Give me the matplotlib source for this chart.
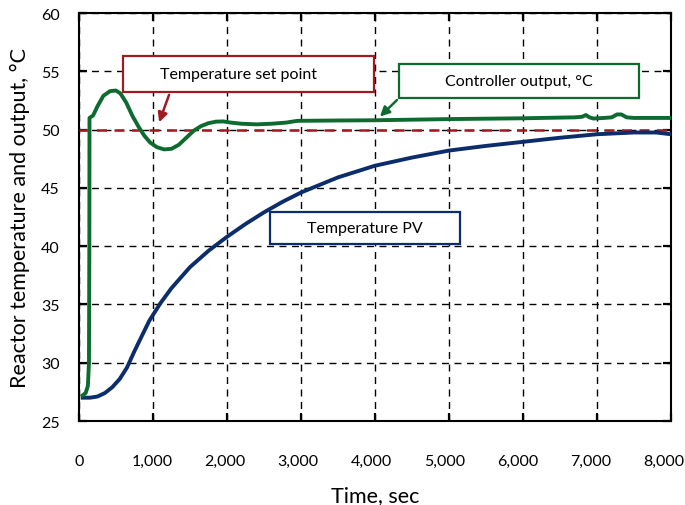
import matplotlib.pyplot as plt
from matplotlib.patches import Rectangle
from matplotlib.ticker import FuncFormatter
from matplotlib.transforms import ScaledTranslation

plt.rcParams['font.family'] = ['Lato', 'DejaVu Sans']

# controller output (green)
t_out = [50, 90, 120, 135, 140, 142, 190, 250, 330, 420, 500, 560, 640, 720, 800, 880,
         960, 1050, 1150, 1250, 1350, 1450, 1550, 1650, 1750, 1850, 1950, 2050, 2200,
         2400, 2600, 2800, 2950, 3500, 4000, 5000, 6000, 6700, 6800, 6850, 6900, 6950,
         7100, 7200, 7270, 7330, 7400, 7500, 8000]
out = [27.2, 27.4, 28.0, 30.0, 40.0, 51.0, 51.2, 52.0, 52.9, 53.3, 53.35, 53.1, 52.3,
       51.2, 50.3, 49.5, 48.9, 48.5, 48.3, 48.35, 48.7, 49.3, 49.9, 50.3, 50.55, 50.68,
       50.7, 50.6, 50.5, 50.45, 50.5, 50.6, 50.75, 50.78, 50.8, 50.9, 50.97, 51.05, 51.1,
       51.25, 51.05, 50.95, 51.0, 51.05, 51.3, 51.3, 51.05, 51.0, 51.0]

# temperature PV (blue)
t_pv = [50, 150, 250, 350, 450, 550, 650, 750, 850, 950, 1100, 1250, 1500, 1750, 2000,
        2250, 2500, 2750, 3000, 3500, 4000, 4500, 5000, 5500, 6000, 6500, 7000, 7500,
        7800, 8000]
pv = [27.0, 27.0, 27.1, 27.4, 27.9, 28.6, 29.6, 31.0, 32.3, 33.6, 35.1, 36.4, 38.2,
      39.6, 40.8, 41.9, 42.9, 43.8, 44.6, 45.9, 46.9, 47.6, 48.2, 48.6, 48.95, 49.3,
      49.6, 49.75, 49.75, 49.6]

setpoint = 50

c_green = '#0e6b30'
c_blue = '#0c2d6b'
c_red = '#9e1b22'

fig = plt.figure(figsize=(6.85, 5.06), dpi=100)
ax = fig.add_axes([0.1153, 0.166, 0.8642, 0.8063])

ax.plot([0, 8000], [setpoint, setpoint], color=c_red, lw=1.8, ls=(0, (4, 3)), zorder=3)
ax.plot(t_pv, pv, color=c_blue, lw=2.8, zorder=4)
ax.plot(t_out, out, color=c_green, lw=2.8, zorder=5)

ax.set_xlim(0, 8000)
ax.set_ylim(25, 60)
ax.set_xticks(range(0, 8001, 1000))
ax.set_yticks(range(25, 61, 5))
ax.xaxis.set_major_formatter(FuncFormatter(lambda v, p: f'{int(v):,}'))
ax.grid(True, color='black', ls=(0, (5, 4)), lw=1.0)
ax.tick_params(direction='in', length=6, width=1.6, top=True, right=True,
               labelsize=11.5, colors='black')
ax.tick_params(axis='x', pad=24)
ax.tick_params(axis='y', pad=14)
for s in ax.spines.values():
    s.set_linewidth(1.5)

# labels drift slightly left in the original
for i, lab in enumerate(ax.get_xticklabels()):
    lab.set_transform(lab.get_transform() + ScaledTranslation(-0.009 * i, 0, fig.dpi_scale_trans))

ax.set_xlabel('Time, sec', fontsize=15.5, labelpad=12)
ax.set_ylabel('Reactor temperature and output, °C', fontsize=15.5, labelpad=8)

# annotation boxes
ax.add_patch(Rectangle((595, 53.2), 3390, 3.1, fc='white', ec=c_red, lw=1.6, zorder=6))
ax.text(2150, 54.75, 'Temperature set point', ha='center', va='center', fontsize=11.5, zorder=7)
ax.annotate('', xy=(1070, 50.4), xytext=(1230, 53.2),
            arrowprops=dict(arrowstyle='-|>', color=c_red, lw=1.8, mutation_scale=14), zorder=7)

ax.add_patch(Rectangle((4324, 52.7), 3244, 2.9, fc='white', ec=c_green, lw=1.6, zorder=6))
ax.text(5946, 54.15, 'Controller output, °C', ha='center', va='center', fontsize=11.5, zorder=7)
ax.annotate('', xy=(4040, 50.95), xytext=(4324, 52.7),
            arrowprops=dict(arrowstyle='-|>', color=c_green, lw=1.8, mutation_scale=14), zorder=7)

ax.add_patch(Rectangle((2581, 40.2), 2568, 2.7, fc='white', ec=c_blue, lw=1.6, zorder=6))
ax.text(3865, 41.55, 'Temperature PV', ha='center', va='center', fontsize=11.5, zorder=7)

fig.savefig('out.png', dpi=100)
